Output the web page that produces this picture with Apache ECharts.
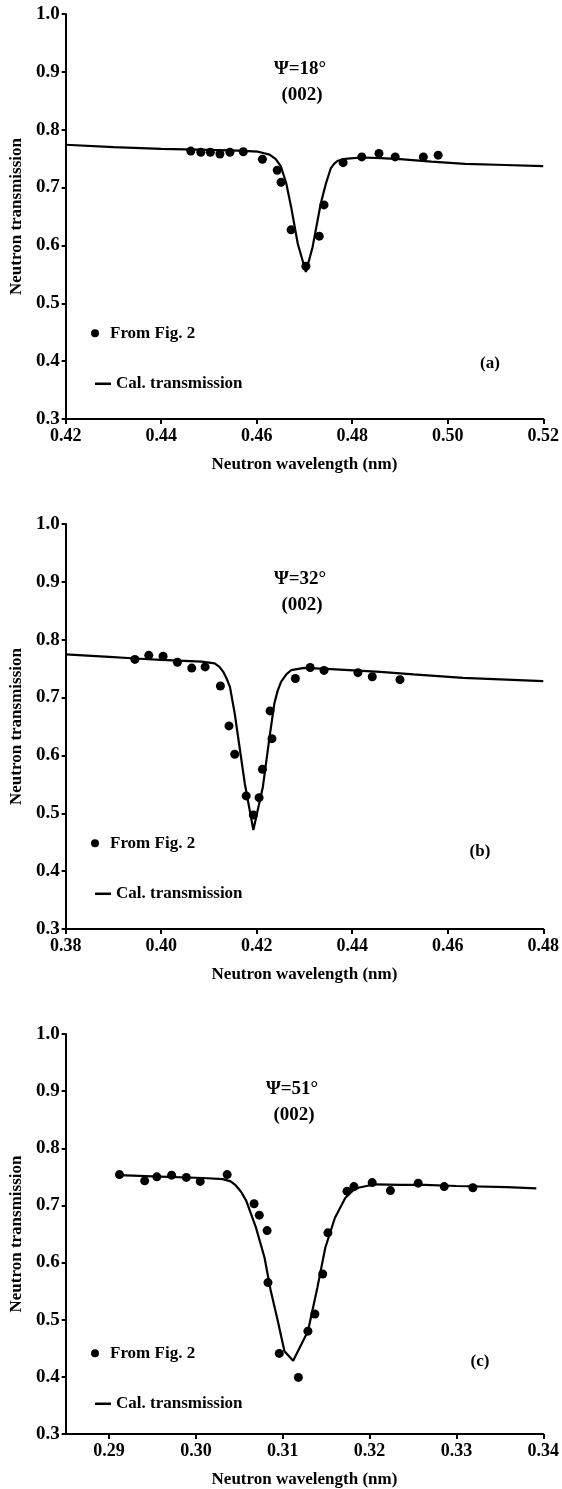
<!DOCTYPE html>
<html>
<head>
<meta charset="utf-8">
<script src="https://cdn.jsdelivr.net/npm/echarts@6/dist/echarts.min.js"></script>
<style>
  html, body { margin: 0; padding: 0; background: #fff; }
  #chart { width: 562px; height: 1489px; }
</style>
</head>
<body>
<div id="chart"></div>
<script>
// Measured transmission points (wavelength in nm)
const measA_x = [0.4462, 0.4483, 0.4503, 0.4523, 0.4544, 0.4572, 0.4612, 0.4643, 0.4651, 0.4672, 0.4703, 0.4731, 0.4741, 0.4781, 0.4820, 0.4856, 0.4890, 0.4949, 0.4980];
const measA_y = [0.763, 0.761, 0.761, 0.758, 0.761, 0.762, 0.749, 0.730, 0.709, 0.627, 0.564, 0.616, 0.670, 0.743, 0.753, 0.759, 0.753, 0.753, 0.756];

const measB_x = [0.3945, 0.3974, 0.4004, 0.4034, 0.4064, 0.4092, 0.4124, 0.4142, 0.4154, 0.4178, 0.4193, 0.4205, 0.4212, 0.4228, 0.4232, 0.4281, 0.4312, 0.4341, 0.4412, 0.4442, 0.4500];
const measB_y = [0.766, 0.773, 0.7715, 0.761, 0.751, 0.753, 0.720, 0.651, 0.602, 0.530, 0.497, 0.527, 0.576, 0.677, 0.629, 0.733, 0.752, 0.747, 0.743, 0.736, 0.731];

const measC_x = [0.2912, 0.2941, 0.2955, 0.2972, 0.2989, 0.3005, 0.3036, 0.3067, 0.3073, 0.3082, 0.3083, 0.3096, 0.3118, 0.3129, 0.3137, 0.3146, 0.3152, 0.3174, 0.3182, 0.3203, 0.3224, 0.3256, 0.3286, 0.3319];
const measC_y = [0.754, 0.743, 0.750, 0.753, 0.749, 0.742, 0.754, 0.703, 0.683, 0.656, 0.565, 0.441, 0.399, 0.480, 0.510, 0.580, 0.652, 0.725, 0.733, 0.740, 0.726, 0.739, 0.733, 0.731];

// Calculated transmission curves
const calcA_x = [0.420, 0.430, 0.440, 0.450, 0.456, 0.4603, 0.4627, 0.4640, 0.4651, 0.4662, 0.4672, 0.4686, 0.4703, 0.4717, 0.4734, 0.4745, 0.4755, 0.4762, 0.4769, 0.4780, 0.4790, 0.4820, 0.4860, 0.4900, 0.4966, 0.5036, 0.5120, 0.5200];
const calcA_y = [0.774, 0.770, 0.767, 0.765, 0.764, 0.762, 0.757, 0.749, 0.736, 0.707, 0.667, 0.603, 0.554, 0.597, 0.672, 0.707, 0.733, 0.741, 0.746, 0.749, 0.750, 0.752, 0.751, 0.749, 0.745, 0.741, 0.739, 0.737];

const calcB_x = [0.380, 0.390, 0.3946, 0.400, 0.4085, 0.4112, 0.4122, 0.4130, 0.4137, 0.4144, 0.4154, 0.4164, 0.4175, 0.4193, 0.4213, 0.4227, 0.4237, 0.4244, 0.4251, 0.4262, 0.4272, 0.4300, 0.4355, 0.4459, 0.4528, 0.4632, 0.4800];
const calcB_y = [0.7745, 0.770, 0.7675, 0.765, 0.762, 0.759, 0.753, 0.7445, 0.733, 0.7185, 0.6725, 0.615, 0.552, 0.471, 0.546, 0.632, 0.690, 0.712, 0.727, 0.740, 0.7473, 0.7513, 0.749, 0.7444, 0.740, 0.734, 0.7283];

const calcC_x = [0.2912, 0.2950, 0.3008, 0.3031, 0.3040, 0.3046, 0.3052, 0.3058, 0.3069, 0.3079, 0.3086, 0.3094, 0.3102, 0.3112, 0.3129, 0.3140, 0.3149, 0.3160, 0.3172, 0.3180, 0.3187, 0.3206, 0.3236, 0.3263, 0.3300, 0.3358, 0.3392];
const calcC_y = [0.753, 0.751, 0.748, 0.746, 0.742, 0.735, 0.724, 0.708, 0.662, 0.609, 0.552, 0.500, 0.445, 0.428, 0.480, 0.557, 0.626, 0.678, 0.713, 0.725, 0.731, 0.737, 0.736, 0.736, 0.734, 0.732, 0.730];

// Axis ranges and tick values
const xRanges = [
  { min: 0.42, max: 0.52, ticks: [0.42, 0.44, 0.46, 0.48, 0.50, 0.52] },
  { min: 0.38, max: 0.48, ticks: [0.38, 0.40, 0.42, 0.44, 0.46, 0.48] },
  { min: 0.285, max: 0.34, ticks: [0.29, 0.30, 0.31, 0.32, 0.33, 0.34] }
];
const yTicks = [0.3, 0.4, 0.5, 0.6, 0.7, 0.8, 0.9, 1.0];
const angleLabels = ['Ψ=18°', 'Ψ=32°', 'Ψ=51°'];
const planeLabel = '(002)';
const panelLetters = ['(a)', '(b)', '(c)'];
const seriesNames = ['From Fig. 2', 'Cal. transmission'];

const zip = (xs, ys) => xs.map((x, i) => [x, ys[i]]);
const measured = [zip(measA_x, measA_y), zip(measB_x, measB_y), zip(measC_x, measC_y)];
const calculated = [zip(calcA_x, calcA_y), zip(calcB_x, calcB_y), zip(calcC_x, calcC_y)];

const FONT = 'Liberation Serif, Times New Roman, serif';
const gridTops = [14, 524, 1034];
const GRID_LEFT = 63, GRID_W = 481, GRID_H = 405;

const grids = [], xAxes = [], yAxes = [], series = [], legends = [], graphics = [];

const yToPx = (top, v) => top + GRID_H - (v - 0.3) / 0.7 * GRID_H;

gridTops.forEach((top, i) => {
  grids.push({ left: GRID_LEFT, top: top, width: GRID_W, height: GRID_H });
  const r = xRanges[i];
  xAxes.push({
    type: 'value', gridIndex: i, min: r.min, max: r.max,
    axisLine: { lineStyle: { color: '#000', width: 2 } },
    axisTick: { length: 5, lineStyle: { color: '#000', width: 2 }, customValues: r.ticks },
    axisLabel: {
      color: '#000', fontFamily: FONT, fontWeight: 'bold', fontSize: 18, margin: 8,
      customValues: r.ticks, formatter: v => v.toFixed(2)
    },
    splitLine: { show: false },
    name: 'Neutron wavelength (nm)', nameLocation: 'middle', nameGap: 37,
    nameTextStyle: { color: '#000', fontFamily: FONT, fontWeight: 'bold', fontSize: 17 }
  });
  yAxes.push({
    type: 'value', gridIndex: i, min: 0.3, max: 1.0,
    axisLine: { show: true, lineStyle: { color: '#000', width: 2 } },
    axisTick: { show: true, length: 4, lineStyle: { color: '#000', width: 2 }, customValues: yTicks },
    axisLabel: {
      color: '#000', fontFamily: FONT, fontWeight: 'bold', fontSize: 19, margin: 6,
      customValues: yTicks, formatter: v => v.toFixed(1)
    },
    splitLine: { show: false },
    name: 'Neutron transmission', nameLocation: 'middle', nameGap: 40,
    nameTextStyle: { color: '#000', fontFamily: FONT, fontWeight: 'bold', fontSize: 17 }
  });
  series.push({
    name: seriesNames[1], type: 'line', xAxisIndex: i, yAxisIndex: i,
    data: calculated[i], showSymbol: false, smooth: false,
    lineStyle: { color: '#000', width: 2.2 }, itemStyle: { color: '#000' }, z: 2
  });
  series.push({
    name: seriesNames[0], type: 'scatter', xAxisIndex: i, yAxisIndex: i,
    data: measured[i], symbol: 'circle', symbolSize: 9,
    itemStyle: { color: '#000', opacity: 1 }, z: 3
  });

  const legendText = { color: '#000', fontFamily: FONT, fontWeight: 'bold', fontSize: 17 };
  legends.push({
    data: [{ name: seriesNames[0], icon: 'circle' }], selectedMode: false,
    left: 91, top: yToPx(top, 0.4475) - 9, padding: 0,
    itemWidth: 20, itemHeight: 8, textStyle: legendText,
    itemStyle: { color: '#000', opacity: 1 }
  });
  legends.push({
    data: [{ name: seriesNames[1], icon: 'rect' }], selectedMode: false,
    left: 95, top: yToPx(top, 0.36) - 9, padding: 0,
    itemWidth: 16, itemHeight: 2.5, textStyle: legendText,
    itemStyle: { color: '#000' }
  });

  const titleX = [300, 300, 292][i];
  const titleStyle = { fill: '#000', font: 'bold 19px ' + FONT, textAlign: 'center', textVerticalAlign: 'middle' };
  graphics.push({ type: 'text', x: titleX, y: top + 55, style: Object.assign({ text: angleLabels[i] }, titleStyle) });
  graphics.push({ type: 'text', x: titleX + 2, y: top + 81, style: Object.assign({ text: planeLabel }, titleStyle) });
  const letterPos = [[490, 0.395], [480, 0.433], [480, 0.434]][i];
  graphics.push({
    type: 'text', x: letterPos[0], y: yToPx(top, letterPos[1]),
    style: { text: panelLetters[i], fill: '#000', font: 'bold 17px ' + FONT, textAlign: 'center', textVerticalAlign: 'middle' }
  });
});

const chart = echarts.init(document.getElementById('chart'), null, { renderer: 'canvas' });
chart.setOption({
  animation: false,
  backgroundColor: '#fff',
  grid: grids, xAxis: xAxes, yAxis: yAxes,
  legend: legends, series: series, graphic: graphics
});
</script>
</body>
</html>
